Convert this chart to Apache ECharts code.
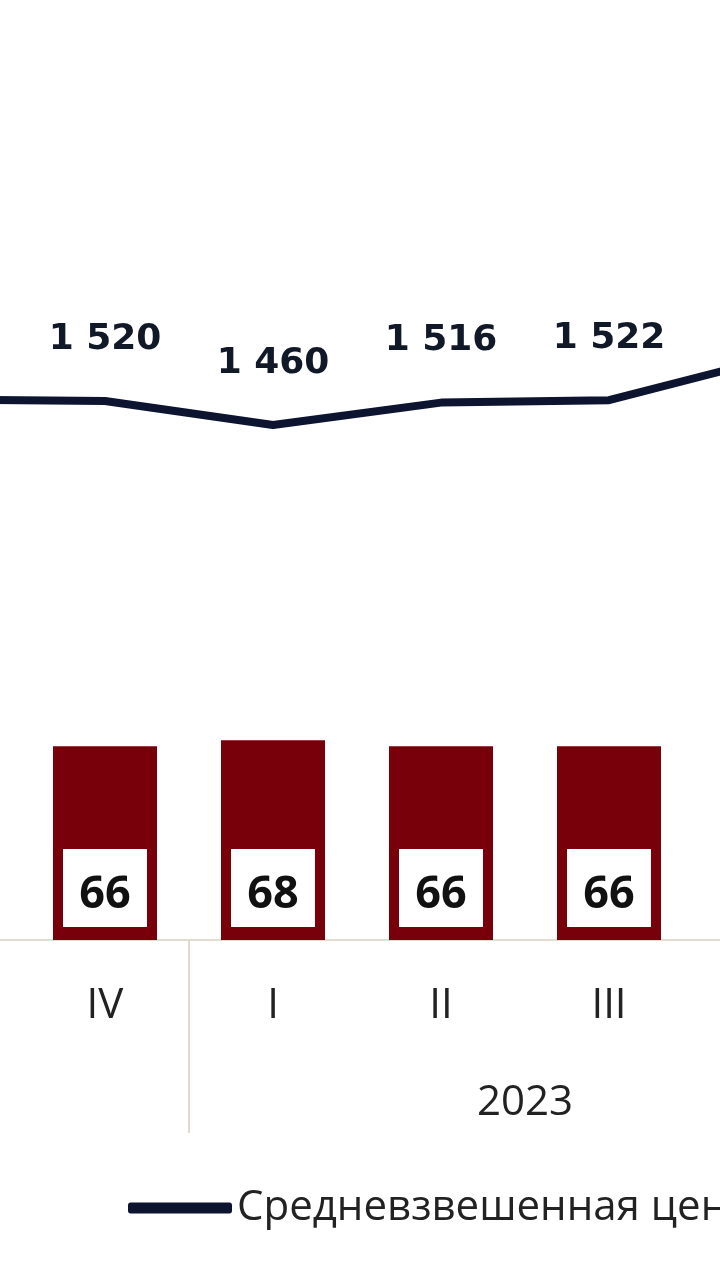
<!DOCTYPE html>
<html>
<head>
<meta charset="utf-8">
<script src="https://cdn.jsdelivr.net/npm/echarts@6/dist/echarts.min.js"></script>
<style>
html,body{margin:0;padding:0;background:#ffffff;width:720px;height:1280px;overflow:hidden;position:relative;}
#chart{position:absolute;left:-150px;top:0;width:1014px;height:1280px;}
</style>
</head>
<body>
<div id="chart"></div>
<script>
// Data (visible window: IV 2022 .. III 2023; neighbours partly off-screen)
var quarters = ['III', 'IV', 'I', 'II', 'III', 'IV'];
var years = ['2022', '2022', '2023', '2023', '2023', '2023'];
var priceValues = [1524, 1520, 1460, 1516, 1522, 1630];   // line: weighted average price
var shareValues = [null, 66, 68, 66, 66, null];           // bars
var yearBoundaryLabels = ['', '', '', '', '2023', '', ''];
var lineName = 'Средневзвешенная цена';
var barName = 'Доля';

var categories = quarters.map(function (q, i) { return years[i] + '-' + q; });

function fmt(v) {
  return String(v).replace(/\B(?=(\d{3})+(?!\d))/g, ' ');
}

var chart = echarts.init(document.getElementById('chart'), null, {renderer: 'canvas'});
chart.setOption({
  backgroundColor: '#ffffff',
  animation: false,
  grid: {left: 0, right: 0, top: 100, bottom: 340, containLabel: false},
  legend: {
    data: [lineName],
    left: 273,
    top: 1182,
    itemWidth: 104,
    itemHeight: 11,
    itemGap: 40,
    icon: 'roundRect',
    textStyle: {fontFamily: 'Open Sans', fontSize: 42, color: '#222222'}
  },
  xAxis: [
    {
      type: 'category',
      data: categories,
      boundaryGap: true,
      axisLine: {show: true, lineStyle: {color: '#e4dbd1', width: 2}},
      axisTick: {show: false},
      axisLabel: {
        margin: 45,
        fontFamily: 'Open Sans',
        fontSize: 42,
        color: '#222222',
        formatter: function (v) { return v.split('-')[1]; }
      }
    },
    {
      type: 'category',
      data: yearBoundaryLabels,
      boundaryGap: false,
      position: 'bottom',
      axisLine: {show: false},
      axisTick: {
        show: true,
        length: 193,
        interval: function (index) { return index > 0 && index < years.length && years[index] !== years[index - 1]; },
        lineStyle: {color: '#e2d9cf', width: 2}
      },
      axisLabel: {
        margin: 142,
        interval: 0,
        fontFamily: 'Open Sans',
        fontSize: 42,
        color: '#222222'
      }
    }
  ],
  yAxis: [
    {type: 'value', min: 0, max: 286, show: false, splitLine: {show: false}},
    {type: 'value', min: 172.5, max: 2272.5, show: false, splitLine: {show: false}}
  ],
  series: [
    {
      name: barName,
      type: 'bar',
      xAxisIndex: 0,
      yAxisIndex: 0,
      data: shareValues,
      barWidth: 104,
      itemStyle: {color: '#78000a'},
      label: {
        show: true,
        position: 'insideBottom',
        distance: 13,
        backgroundColor: '#ffffff',
        width: 84,
        lineHeight: 46,
        padding: [23, 0, 9, 0],
        align: 'center',
        fontFamily: 'Open Sans',
        fontWeight: 'bold',
        fontSize: 45,
        color: '#111111'
      }
    },
    {
      name: lineName,
      type: 'line',
      xAxisIndex: 0,
      yAxisIndex: 1,
      data: priceValues,
      symbol: 'circle',
      symbolSize: 1,
      showSymbol: true,
      lineStyle: {color: '#0c1430', width: 8, cap: 'round', join: 'round'},
      itemStyle: {color: '#0c1430'},
      label: {
        show: true,
        position: 'top',
        distance: 43,
        fontFamily: 'DejaVu Sans',
        fontWeight: 'bold',
        fontSize: 36,
        color: '#111827',
        formatter: function (p) { return fmt(p.value); }
      },
      z: 5
    }
  ]
});
</script>
</body>
</html>
